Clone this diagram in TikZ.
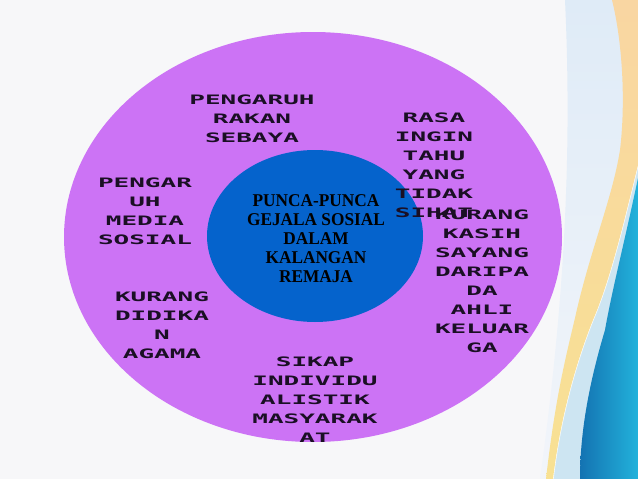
\documentclass[tikz,border=0pt]{standalone}
\usepackage{fontspec}
\usetikzlibrary{shapes.geometric}
\newfontfamily\techfont[FakeStretch=2.0]{DejaVu Sans Mono Bold}
\newfontfamily\titlefont[FakeStretch=0.96]{Liberation Serif}
\definecolor{bgcol}{HTML}{F7F7F9}
\definecolor{violetfill}{HTML}{CC73F5}
\definecolor{bluefill}{HTML}{0563CC}
\definecolor{txtcol}{HTML}{1A0F24}
\definecolor{paleblue}{HTML}{DFEBF7}
\definecolor{palewhite}{HTML}{F2F5FA}
\definecolor{peach}{HTML}{F9D6A2}
\definecolor{sunyellow}{HTML}{F8E193}
\definecolor{bandblue}{HTML}{CDE5F2}
\definecolor{tealdark}{HTML}{1473B2}
\definecolor{teallight}{HTML}{22B2DB}
\begin{document}
\begin{tikzpicture}[x=1pt,y=-1pt,
  outertext/.style={font=\techfont\fontsize{13}{19}\selectfont, align=center, inner sep=0pt, text=txtcol},
  titletext/.style={font=\titlefont\bfseries\fontsize{18}{19}\selectfont, align=center, inner sep=0pt, text=black},
  disc/.style={ellipse, inner sep=0pt, draw=none}]
\useasboundingbox (0,0) rectangle (638,479);
\fill[bgcol] (0,0) rectangle (638,479);
% right-hand decoration
\shade[top color=paleblue, bottom color=palewhite]
  (565,0) .. controls (572,150) and (565,300) .. (540,479) -- (600,479) -- (638,0) -- cycle;
\fill[bandblue] (638,150) .. controls (622,230) and (610,280) .. (593,320)
  .. controls (575,365) and (560,420) .. (553,479) -- (638,479) -- cycle;
\shade[left color=tealdark, right color=teallight]
  (638,178) .. controls (625,240) and (612,290) .. (605,330)
  .. controls (590,380) and (580,430) .. (580,479) -- (638,479) -- cycle;
\draw[white, line width=1.2pt] (638,165) .. controls (622,230) and (610,280) .. (593,320)
  .. controls (575,365) and (560,420) .. (553,479);
\shade[top color=peach, bottom color=sunyellow]
  (612,0) .. controls (622,40) and (626,100) .. (620,150)
  .. controls (612,200) and (590,250) .. (575,318)
  .. controls (565,360) and (555,400) .. (546,479)
  -- (553,479) .. controls (560,420) and (575,365) .. (593,320)
  .. controls (610,280) and (622,230) .. (638,165) -- (638,0) -- cycle;
% discs
\node[disc, fill=violetfill, minimum width=498pt, minimum height=410pt] (outerdisc) at (313,237) {};
\node[disc, fill=bluefill, minimum width=216pt, minimum height=172pt] (innerdisc) at (315,236) {};
% texts
\node[titletext] (title) at (316,239) {PUNCA-PUNCA\\GEJALA SOSIAL\\DALAM\\KALANGAN\\REMAJA};
\node[outertext] (rakan) at (252,119) {PENGARUH\\RAKAN\\SEBAYA};
\node[outertext] (ingintahu) at (434,165.5) {RASA\\INGIN\\TAHU\\YANG\\TIDAK\\SIHAT};
\node[outertext] (media) at (145,211.5) {PENGAR\\UH\\MEDIA\\SOSIAL};
\node[outertext] (kasih) at (482,281.5) {KURANG\\KASIH\\SAYANG\\DARIPA\\DA\\AHLI\\KELUAR\\GA};
\node[outertext] (agama) at (162,325.5) {KURANG\\DIDIKA\\N\\AGAMA};
\node[outertext] (sikap) at (315,400) {SIKAP\\INDIVIDU\\ALISTIK\\MASYARAK\\AT};
\end{tikzpicture}
\end{document}
